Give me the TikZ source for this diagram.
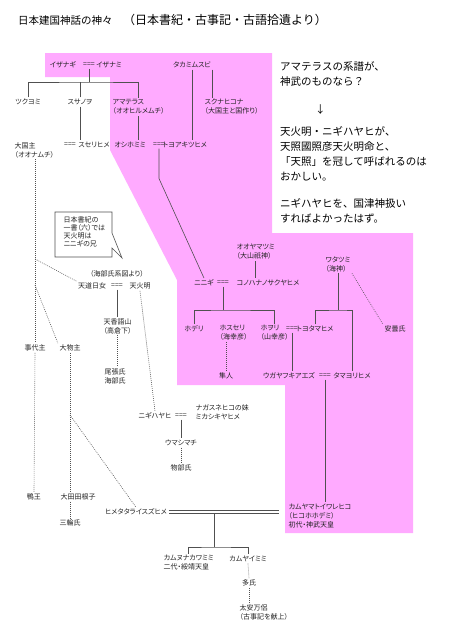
\documentclass[tikz,border=0pt]{standalone}
\usepackage{fontspec}
\usepackage{tikz}
\usetikzlibrary{positioning, calc}
\newfontfamily\jp{Noto Sans CJK JP}
\newfontfamily\jpp[RawFeature=+palt]{Noto Sans CJK JP}
\definecolor{momo}{RGB}{255, 170, 255}
\definecolor{senshoku}{RGB}{80, 80, 80}
\definecolor{sumi}{RGB}{35, 35, 35}

\begin{document}
\begin{tikzpicture}[
    x=1pt, y=-1pt,
    kami/.style={font=\jpp\fontsize{7}{9}\selectfont, text=sumi, inner sep=1.5pt, align=left},
    kei/.style={draw=senshoku, line width=0.6pt},
    tensen/.style={kei, dash pattern=on 0.8pt off 1.2pt},
    futae/.style={kei, double=white, double distance=2.4pt},
    memo/.style={font=\jp\fontsize{10.5}{15}\selectfont, text=black, align=left, anchor=west, inner sep=0pt}
  ]
  \useasboundingbox (0,0) rectangle (450,640);
  \fill[white] (0,0) rectangle (450,640);

  % Amaterasu line (pink region)
  \fill[momo] (45,53) -- (272,53) -- (272,233) -- (413,233) -- (413,533) -- (285,533)
    -- (285,385) -- (177,385) -- (177,280) -- (110,150) -- (110,77) -- (45,77) -- cycle;

  % Title
  \node[font=\jp\fontsize{10.5}{13}\selectfont, anchor=west, inner sep=0pt] (title) at (18,20)
    {日本建国神話の神々　{\fontsize{12}{13}\selectfont（日本書紀・古事記・古語拾遺より）}};

  % Note on the right
  \node[memo] (memo1) at (280,73.5) {アマテラスの系譜が、\\神武のものなら？};
  \node[memo] (yajirushi) at (315,110) {↓};
  \node[memo] (memo2) at (280,154) {天火明・ニギハヤヒが、\\天照國照彦天火明命と、\\「天照」を冠して呼ばれるのは\\おかしい。};
  \node[memo] (memo3) at (280,210.5) {ニギハヤヒを、国津神扱い\\すればよかったはず。};

  % Izanagi and children
  \node[kami] (izanagi) at (63,65) {イザナギ};
  \node[kami] (m_izana) at (89,65) {===};
  \node[kami] (izanami) at (109,65) {イザナミ};
  \node[kami] (takami) at (192,65) {タカミムスビ};
  \node[kami] (tsukuyomi) at (28,102) {ツクヨミ};
  \node[kami] (susanoo) at (80,102) {スサノヲ};
  \node[kami, anchor=west] (amaterasu) at (111,107) {アマテラス\\（オオヒルメムチ）};
  \node[kami, anchor=west] (sukuna) at (203,107) {スクナヒコナ\\（大国主と国作り）};
  \node[kami, anchor=west] (okuninushi) at (13,150) {大国主\\（オオナムチ）};
  \node[kami] (m_suseri) at (70,145) {===};
  \node[kami] (suseri) at (94,145) {スセリヒメ};
  \node[kami] (oshihomimi) at (130,145) {オシホミミ};
  \node[kami] (m_oshi) at (159,145) {===};
  \node[kami] (toyoaki) at (185,145) {トヨアキツヒメ};

  % Kaibu-uji side
  \draw[kei, fill=white] (55,212) -- (112,212) -- (112,233) -- (122,258) -- (112,248)
    -- (112,257) -- (55,257) -- cycle;
  \node[kami, anchor=north west, font=\jpp\fontsize{7}{8}\selectfont] (shoki) at (62,215)
    {日本書紀の\\一書（六）では\\天火明は\\ニニギの兄};
  \node[kami] (kaibu) at (117,274) {（海部氏系図より）};
  \node[kami] (amenomichi) at (92,286) {天道日女};
  \node[kami] (m_ame) at (117,286) {===};
  \node[kami] (honoakari) at (140,286) {天火明};
  \node[kami, anchor=west] (kagoyama) at (102,326) {天香語山\\（高倉下）};
  \node[kami, anchor=west] (owari) at (103,376) {尾張氏\\海部氏};
  \node[kami] (kotoshiro) at (35,348) {事代主};
  \node[kami] (omono) at (70,348) {大物主};

  % Ninigi and children
  \node[kami, anchor=west] (ohoyama) at (235,252) {オオヤマツミ\\（大山祇神）};
  \node[kami] (ninigi) at (204,283) {ニニギ};
  \node[kami] (m_ninigi) at (223,283) {===};
  \node[kami] (konohana) at (268,283) {コノハナノサクヤヒメ};
  \node[kami, anchor=west] (watatsumi) at (324,264) {ワタツミ\\（海神）};
  \node[kami] (hoderi) at (194,329) {ホデリ};
  \node[kami, anchor=west] (hosuseri) at (218,333) {ホスセリ\\（海幸彦）};
  \node[kami, anchor=west] (hoori) at (259,333) {ホヲリ\\（山幸彦）};
  \node[kami] (m_hoori) at (292,329) {===};
  \node[kami] (toyotama) at (315,329) {トヨタマヒメ};
  \node[kami] (azumi) at (395,329) {安曇氏};
  \node[kami] (hayato) at (226,376) {隼人};
  \node[kami] (ugaya) at (289,376) {ウガヤフキアエズ};
  \node[kami] (m_ugaya) at (325,376) {===};
  \node[kami] (tamayori) at (352,376) {タマヨリヒメ};

  % Nigihayahi
  \node[kami] (nigihayahi) at (155,416) {ニギハヤヒ};
  \node[kami] (m_nigi) at (181,416) {===};
  \node[kami, anchor=west] (nagasune) at (194,412) {ナガスネヒコの妹\\ミカシキヤヒメ};
  \node[kami] (umashimachi) at (181,443) {ウマシマチ};
  \node[kami] (mononobe) at (181,468) {物部氏};

  % Jinmu and after
  \node[kami] (kamo) at (34,497) {鴨王};
  \node[kami] (otataneko) at (78,497) {大田田根子};
  \node[kami] (miwa) at (70,523) {三輪氏};
  \node[kami] (himetatara) at (136,512) {ヒメタタライスズヒメ};
  \node[kami, anchor=west] (jinmu) at (287,516) {カムヤマトイワレヒコ\\（ヒコホホデミ）\\初代・神武天皇};
  \node[kami, anchor=west] (kamununa) at (162,563) {カムヌナカワミミ\\二代・綏靖天皇};
  \node[kami] (kamuyai) at (248,559) {カムヤイミミ};
  \node[kami] (oo) at (249,583) {多氏};
  \node[kami, anchor=west] (yasumaro) at (238,612) {太安万侶\\（古事記を献上）};

  % Lines
  \coordinate (b_izana) at (89,82);
  \draw[kei] (m_izana.south) -- (b_izana);
  \draw[kei] (tsukuyomi.north) |- (b_izana) -| (amaterasu.north);
  \draw[kei] (susanoo.north) -- (susanoo.north |- b_izana);
  \draw[kei] (susanoo.south) -- (susanoo.south |- suseri.north);
  \draw[kei] (amaterasu.south) -- (amaterasu.south |- oshihomimi.north);
  \draw[kei] (takami.south) -- (takami.south |- toyoaki.north);
  \draw[kei] (takami.east |- takami.south) -- (takami.east |- sukuna.north);
  \draw[kei] (m_oshi.south) -- ++(0,30) -- (ninigi.north);
  \draw[kei] (ohoyama.south) -- (ohoyama.south |- konohana.north);

  \coordinate (b_ninigi) at (227,310);
  \draw[kei] (m_ninigi.south) -- (m_ninigi.south |- b_ninigi);
  \draw[kei] (hoderi.north) |- (b_ninigi) -| (hoori.north);
  \coordinate (b_wata) at (342,310);
  \draw[kei] (watatsumi.south) -- (watatsumi.south |- b_wata);
  \draw[kei] (toyotama.north) |- (b_wata) -| (tamayori.north);
  \draw[tensen] (watatsumi.south east) -- (azumi.north west);
  \draw[tensen] (hosuseri.south -| hayato.north) -- (hayato.north);
  \draw[kei] (m_hoori.south) -- (m_hoori.south |- ugaya.north);
  \draw[kei] (m_ugaya.south) -- (m_ugaya.south |- jinmu.north);

  \coordinate (br_ame) at (35,259);
  \coordinate (br_omono) at (35,285);
  \coordinate (br_tatara) at (70,415);
  \draw[tensen] (okuninushi.south -| kotoshiro.north) -- (kotoshiro.north);
  \draw[tensen] (br_ame) -- (amenomichi.north west);
  \draw[tensen] (br_omono) -- (omono.north west);
  \draw[tensen] (kotoshiro.south) -- (kamo.north);
  \draw[tensen] (omono.south) -- (omono.south |- otataneko.north);
  \draw[tensen] (br_tatara) -- (himetatara.north);
  \draw[tensen] (otataneko.south -| miwa.north) -- (miwa.north);

  \draw[kei] (m_ame.south) -- (m_ame.south |- kagoyama.north);
  \draw[tensen] (kagoyama.south -| m_ame.south) -- (owari.north -| m_ame.south);
  \draw[tensen] (honoakari.south) -- (nigihayahi.north);
  \draw[kei] (m_nigi.south) -- (umashimachi.north);
  \draw[tensen] (umashimachi.south) -- (mononobe.north);

  \draw[futae, shorten >=8pt] (himetatara.east) -- (himetatara.east -| jinmu.west);
  \coordinate (t_jin) at (214,513);
  \coordinate (b_jin) at (214,547);
  \draw[kei] (t_jin) -- (b_jin);
  \draw[kei] (kamununa.north) |- (b_jin) -| (kamuyai.north);
  \draw[tensen] (kamuyai.south) -- (oo.north);
  \draw[tensen] (oo.south) -- (oo.south |- yasumaro.north);
\end{tikzpicture}
\end{document}
